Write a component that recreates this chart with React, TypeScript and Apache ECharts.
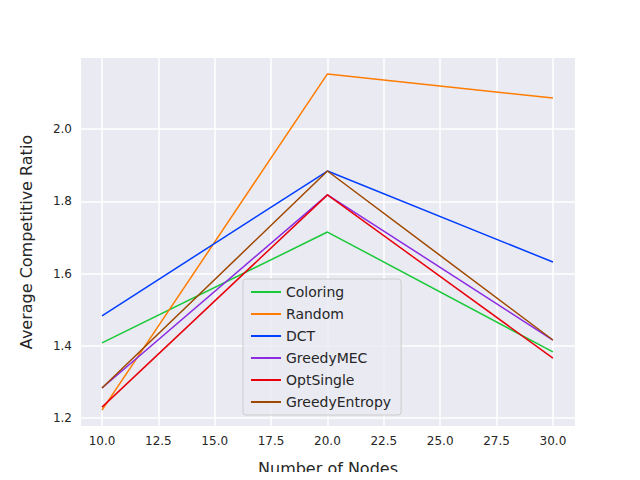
import { useEffect, useRef } from 'react';
import * as echarts from 'echarts';

const nodes = [10, 20, 30];
const seriesNames = ['Coloring', 'Random', 'DCT', 'GreedyMEC', 'OptSingle', 'GreedyEntropy'];
const coloring = [1.408, 1.715, 1.383];
const random = [1.222, 2.153, 2.086];
const dct = [1.483, 1.884, 1.632];
const greedyMec = [1.283, 1.818, 1.416];
const optSingle = [1.23, 1.818, 1.366];
const greedyEntropy = [1.283, 1.884, 1.416];
const colors = ['#1ac938', '#ff7c00', '#023eff', '#8b2be2', '#e8000b', '#9f4800'];

export default function App() {
  const chartRef = useRef<HTMLDivElement>(null);

  useEffect(() => {
    if (!chartRef.current) return;
    const chart = echarts.init(chartRef.current, null, { renderer: 'svg' });
    const values = [coloring, random, dct, greedyMec, optSingle, greedyEntropy];
    const font = 'DejaVu Sans';
    const split = { lineStyle: { color: '#ffffff', width: 1.5 } };
    const hidden = { axisLine: { show: false }, axisTick: { show: false } };

    chart.setOption({
      animation: false,
      textStyle: { fontFamily: font },
      graphic: [
        { type: 'rect', z: -10, silent: true, shape: { x: 81, y: 58, width: 494, height: 368 }, style: { fill: '#eaeaf2' } },
        { type: 'text', x: 328, y: 460, style: { text: 'Number of Nodes', font: `16px ${font}`, fill: '#262626', align: 'center' } },
        { type: 'text', x: 18, y: 242, rotation: Math.PI / 2, style: { text: 'Average Competitive Ratio', font: `16px ${font}`, fill: '#262626', align: 'center' } },
      ],
      grid: [
        { left: 102, right: 65, top: 58, bottom: 62 },
        // left strip: horizontal grid lines between the background edge and x=10
        { left: 81, width: 21, top: 58, bottom: 62 },
        // bottom strip: vertical grid lines below y=1.2
        { left: 102, right: 65, top: 418, bottom: 54 },
      ],
      legend: {
        orient: 'vertical',
        left: 243,
        top: 279,
        padding: [6, 10, 6, 8],
        itemWidth: 30,
        itemHeight: 2,
        itemGap: 8,
        icon: 'rect',
        backgroundColor: 'rgba(234,234,242,0.8)',
        borderColor: '#cccccc',
        borderWidth: 1,
        borderRadius: 3,
        textStyle: { fontSize: 14, color: '#262626', fontFamily: font, lineHeight: 14 },
        data: seriesNames,
      },
      xAxis: [
        {
          type: 'value', gridIndex: 0, min: 10, max: 30.98, interval: 2.5, ...hidden,
          axisLabel: { color: '#262626', fontSize: 12, margin: 17, showMaxLabel: false, formatter: (v: number) => v.toFixed(1) },
          splitLine: { ...split, showMaxLine: false },
        },
        { type: 'value', gridIndex: 1, min: 0, max: 1, show: false },
        {
          type: 'value', gridIndex: 2, min: 10, max: 30.98, interval: 2.5, ...hidden,
          axisLabel: { show: false }, splitLine: { ...split, showMaxLine: false },
        },
      ],
      yAxis: [
        {
          type: 'value', gridIndex: 0, min: 1.2, max: 2.197, interval: 0.2, ...hidden,
          axisLabel: { color: '#262626', fontSize: 12, margin: 30, showMaxLabel: false, formatter: (v: number) => v.toFixed(1) },
          splitLine: { ...split, showMaxLine: false },
        },
        {
          type: 'value', gridIndex: 1, min: 1.2, max: 2.197, interval: 0.2, ...hidden,
          axisLabel: { show: false }, splitLine: { ...split, showMaxLine: false },
        },
        { type: 'value', gridIndex: 2, min: 0, max: 1, show: false },
      ],
      series: seriesNames.map((name, i) => ({
        name,
        type: 'line',
        xAxisIndex: 0,
        yAxisIndex: 0,
        clip: false,
        showSymbol: false,
        symbol: 'none',
        color: colors[i],
        lineStyle: { width: 1.5 },
        data: nodes.map((n, j) => [n, values[i][j]]),
      })),
    });

    return () => chart.dispose();
  }, []);

  return <div ref={chartRef} style={{ width: 640, height: 480, margin: -8 }} />;
}
